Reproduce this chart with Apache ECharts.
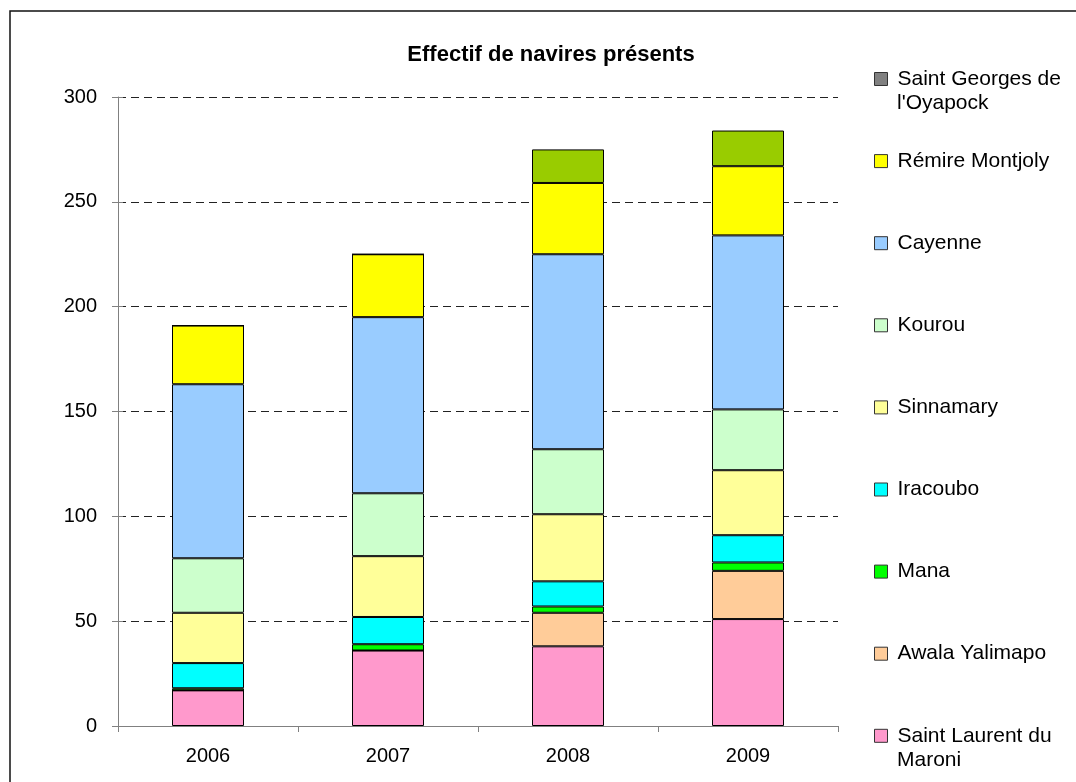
<!DOCTYPE html>
<html>
<head>
<meta charset="utf-8">
<script src="https://cdn.jsdelivr.net/npm/echarts@6/dist/echarts.min.js"></script>
<style>
html,body{margin:0;padding:0;background:#fff;}
#c{width:1076px;height:782px;}
</style>
</head>
<body>
<div id="c"></div>
<script>
var years = ['2006', '2007', '2008', '2009'];
var seriesNames = ['Saint Laurent du Maroni', 'Awala Yalimapo', 'Mana', 'Iracoubo', 'Sinnamary', 'Kourou', 'Cayenne', 'Rémire Montjoly', "Saint Georges de l'Oyapock"];
var saintLaurent = [17, 36, 38, 51];
var awala = [0, 0, 16, 23];
var mana = [1, 3, 3, 4];
var iracoubo = [12, 13, 12, 13];
var sinnamary = [24, 29, 32, 31];
var kourou = [26, 30, 31, 29];
var cayenne = [83, 84, 93, 83];
var remire = [28, 30, 34, 33];
var saintGeorges = [0, 0, 16, 17];
var yTicks = [0, 50, 100, 150, 200, 250, 300];

var values = [saintLaurent, awala, mana, iracoubo, sinnamary, kourou, cayenne, remire, saintGeorges];
var colors = ['#FF99CC', '#FFCC99', '#00FF00', '#00FFFF', '#FFFF99', '#CCFFCC', '#99CCFF', '#FFFF00', '#99CC00'];
var legendColors = ['#FF99CC', '#FFCC99', '#00FF00', '#00FFFF', '#FFFF99', '#CCFFCC', '#99CCFF', '#FFFF00', '#808080'];
// legend labels split on two lines: first line in the legend, second line below
var firstLine = {
  "Saint Georges de l'Oyapock": 'Saint Georges de',
  'Saint Laurent du Maroni': 'Saint Laurent du'
};
var secondLine = {
  "Saint Georges de l'Oyapock": "l'Oyapock",
  'Saint Laurent du Maroni': 'Maroni'
};

var FONT = 'Liberation Sans, Arial, sans-serif';
var series = seriesNames.map(function (n, i) {
  return {
    name: n,
    type: 'bar',
    stack: 'total',
    barWidth: '40%',
    data: values[i],
    itemStyle: { color: colors[i], borderColor: '#000', borderWidth: 1 },
    emphasis: { disabled: true }
  };
});

var legends = [];
var graphics = [{
  type: 'rect',
  shape: { x: 10, y: 11, width: 1100, height: 800 },
  style: { fill: 'none', stroke: '#111', lineWidth: 1.5 },
  silent: true
}];
var order = seriesNames.slice().reverse();
var legOrder = legendColors.slice().reverse();
order.forEach(function (n, k) {
  var center = 79 + 82.1 * k;
  legends.push({
    left: 874,
    top: center - 12,
    orient: 'vertical',
    padding: 0,
    selectedMode: false,
    itemWidth: 13,
    itemHeight: 13,
    icon: 'rect',
    data: [{ name: n, itemStyle: { color: legOrder[k], borderColor: '#333', borderWidth: 1 } }],
    formatter: function (name) { return firstLine[name] || name; },
    textStyle: {
      fontFamily: FONT, fontSize: 21, color: '#000', lineHeight: 24,
      padding: [0, 0, 0, 5]
    }
  });
  if (secondLine[n]) {
    graphics.push({
      type: 'text',
      left: 897,
      top: center + 14,
      silent: true,
      style: { text: secondLine[n], font: '21px Liberation Sans, Arial, sans-serif', fill: '#000' }
    });
  }
});

var chart = echarts.init(document.getElementById('c'));
chart.setOption({
  animation: false,
  backgroundColor: '#fff',
  title: {
    text: 'Effectif de navires présents',
    left: 546, top: 39, textAlign: 'center',
    textStyle: { fontFamily: FONT, fontSize: 22, fontWeight: 'bold', color: '#000' }
  },
  legend: legends,
  grid: { left: 118, right: 238, top: 97, bottom: 56, containLabel: false },
  xAxis: {
    type: 'category',
    data: years,
    axisLine: { lineStyle: { color: '#808080', width: 1 } },
    axisTick: { show: true, length: 6, lineStyle: { color: '#808080' } },
    axisLabel: { fontFamily: FONT, fontSize: 20, color: '#000', margin: 20 }
  },
  yAxis: [{
    type: 'value',
    min: 0, max: 300, interval: 50,
    axisLine: { show: true, lineStyle: { color: '#808080', width: 1 } },
    axisTick: { show: true, length: 6, lineStyle: { color: '#808080' } },
    axisLabel: {
      fontFamily: FONT, fontSize: 20, color: '#000', margin: 21,
      formatter: function (v) { return yTicks.indexOf(v) >= 0 ? String(v) : ''; }
    },
    splitLine: { show: true, lineStyle: { color: '#222', type: [8, 5], width: 1 } }
  }, {
    type: 'value',
    position: 'left',
    min: 0, max: 300, interval: 50,
    axisLine: { show: false },
    axisTick: { show: true, inside: true, length: 5, lineStyle: { color: '#808080' } },
    axisLabel: { show: false },
    splitLine: { show: false }
  }],
  series: series,
  graphic: graphics
});
</script>
</body>
</html>
